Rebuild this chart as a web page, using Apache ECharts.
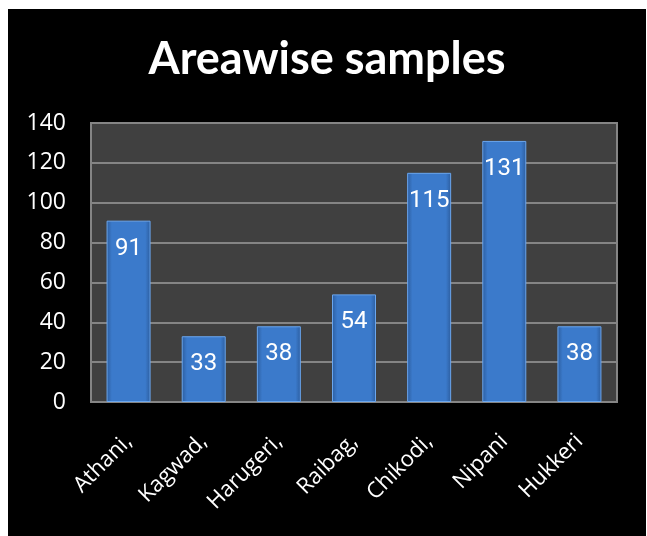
<!DOCTYPE html>
<html>
<head>
<meta charset="utf-8">
<script src="https://cdn.jsdelivr.net/npm/echarts@6/dist/echarts.min.js"></script>
<style>
  html, body { margin: 0; padding: 0; background: #fff; }
  #area_chart { position: absolute; left: 8px; top: 9px; width: 638px; height: 527px; }
</style>
</head>
<body>
<div id="area_chart"></div>
<script>
// data
var areaNames = ['Athani,', 'Kagwad,', 'Harugeri,', 'Raibag,', 'Chikodi,', 'Nipani', 'Hukkeri'];
var sampleCnt = [91, 33, 38, 54, 115, 131, 38];
var yTicks = [0, 20, 40, 60, 80, 100, 120, 140];

var area_chart = echarts.init(document.getElementById('area_chart'));

var option = {
    backgroundColor: '#000',
    animation: false,
    title: {
        text: 'Areawise samples',
        left: 'center',
        top: 23,
        textStyle: {
            color: '#fff',
            fontFamily: 'Lato',
            fontWeight: 'bold',
            fontSize: 45
        }
    },
    grid: {
        show: true,
        left: 83,
        right: 29,
        top: 114,
        bottom: 134,
        backgroundColor: '#404040',
        borderColor: '#858585',
        borderWidth: 2
    },
    xAxis: {
        type: 'category',
        data: areaNames,
        axisTick: { show: false },
        axisLine: { lineStyle: { color: '#858585', width: 2 } },
        axisLabel: {
            rotate: 45,
            margin: 36,
            color: '#fff',
            fontFamily: 'Open Sans',
            fontSize: 22
        }
    },
    yAxis: {
        type: 'value',
        min: yTicks[0],
        max: yTicks[yTicks.length - 1],
        interval: 20,
        axisLine: { show: false },
        axisTick: { show: false },
        splitLine: { lineStyle: { color: '#858585', width: 2 } },
        axisLabel: {
            margin: 25,
            color: '#fff',
            fontFamily: 'Open Sans',
            fontSize: 23
        }
    },
    series: [{
        type: 'bar',
        barWidth: 44,
        data: sampleCnt,
        itemStyle: {
            color: new echarts.graphic.LinearGradient(0, 0, 1, 0, [
                { offset: 0, color: '#2c5d9e' },
                { offset: 0.12, color: '#3b7acb' },
                { offset: 0.88, color: '#3b7acb' },
                { offset: 1, color: '#2c5d9e' }
            ]),
            borderColor: '#6aa6ee',
            borderWidth: 1
        },
        label: {
            show: true,
            position: 'insideTop',
            distance: 16,
            color: '#fff',
            fontFamily: 'Roboto',
            fontSize: 24
        }
    }]
};

area_chart.setOption(option);
</script>
</body>
</html>
